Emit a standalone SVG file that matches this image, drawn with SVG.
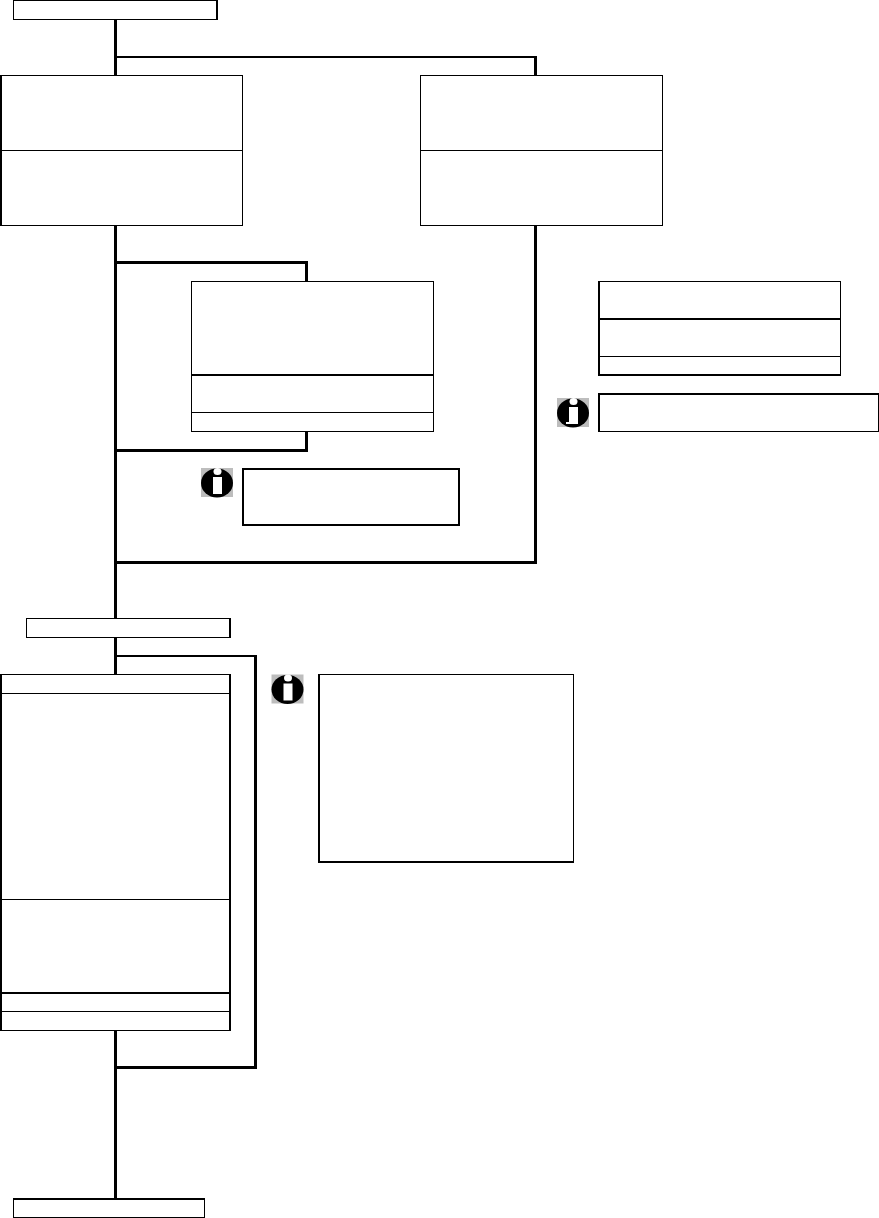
<svg xmlns="http://www.w3.org/2000/svg" width="879" height="1218" viewBox="0 0 879 1218">
<style>
.b{fill:#fff;stroke:#000;stroke-width:1;shape-rendering:crispEdges}
.k{fill:#000;stroke:none;shape-rendering:crispEdges}
.d{fill:none;stroke:#000;stroke-width:1;shape-rendering:crispEdges}
.c3{fill:none;stroke:#000;stroke-width:3;shape-rendering:crispEdges}
.c2{fill:none;stroke:#000;stroke-width:2;shape-rendering:crispEdges}
</style>
<defs>
<g id="info">
<rect width="32" height="29" fill="#bdbdbd"/>
<ellipse cx="16" cy="15" rx="16" ry="14.5" fill="#000"/>
<rect x="12" y="9" width="9" height="17" fill="#fff"/>
<ellipse cx="16.5" cy="3.5" rx="4" ry="3.5" fill="#fff"/>
</g>
</defs>
<rect width="879" height="1218" fill="#fff"/>
<g id="connectors">
<path class="c3" d="M115.5 20V1198"/>
<path class="c2" d="M117 57H537"/>
<path class="c3" d="M535.5 56V75"/>
<path class="c3" d="M535.5 226V564"/>
<path class="c3" d="M114 562.5H537"/>
<path class="c3" d="M115.5 262.5H308"/>
<path class="c3" d="M306.5 261V281"/>
<path class="c3" d="M306.5 432V452"/>
<path class="c3" d="M115.5 450.5H308"/>
<path class="c2" d="M117 656H257"/>
<path class="c3" d="M255.5 655V1069"/>
<path class="c3" d="M115.5 1067.5H257"/>
</g>
<g id="start">
<rect class="b" x="13.5" y="0.5" width="204" height="19"/>
<rect class="k" x="216" y="0" width="2" height="20"/>
</g>
<g id="box-left">
<rect class="b" x="0.5" y="75.5" width="242" height="150"/>
<rect class="k" x="0" y="75" width="2" height="151"/>
<path class="d" d="M0 150.5H243"/>
</g>
<g id="box-right">
<rect class="b" x="420.5" y="75.5" width="242" height="150"/>
<path class="d" d="M420 150.5H663"/>
</g>
<g id="box-inner">
<rect class="b" x="191.5" y="281.5" width="242" height="150"/>
<rect class="k" x="191" y="374" width="243" height="2"/>
<path class="d" d="M191 412.5H434"/>
</g>
<g id="box-far">
<rect class="b" x="598.5" y="281.5" width="242" height="94"/>
<rect class="k" x="598" y="281" width="2" height="95"/>
<rect class="k" x="598" y="374" width="243" height="2"/>
<rect class="k" x="598" y="318" width="243" height="2"/>
<path class="d" d="M598 356.5H841"/>
</g>
<g id="note-far">
<use href="#info" x="557" y="398"/>
<rect class="b" x="598.5" y="393.5" width="280" height="38"/>
<rect class="k" x="598" y="393" width="2" height="39"/>
<rect class="k" x="598" y="393" width="281" height="2"/>
<rect class="k" x="566" y="422" width="12" height="2" fill="#fff" style="fill:#fff"/>
</g>
<g id="note-inner">
<use href="#info" x="201" y="468"/>
<rect x="243" y="469" width="216" height="56" fill="#fff" stroke="#000" stroke-width="2" shape-rendering="crispEdges"/>
</g>
<g id="mid">
<rect class="b" x="26.5" y="618.5" width="204" height="19"/>
<rect class="k" x="229" y="618" width="2" height="20"/>
</g>
<g id="box-big">
<rect class="b" x="0.5" y="674.5" width="230" height="356"/>
<rect class="k" x="0" y="674" width="2" height="357"/>
<rect class="k" x="229" y="674" width="2" height="357"/>
<path class="d" d="M0 693.5H231M0 899.5H231M0 1011.5H231"/>
<rect class="k" x="0" y="992" width="231" height="2"/>
</g>
<g id="note-big">
<use href="#info" x="271.5" y="674.5"/>
<rect class="b" x="318.5" y="674.5" width="255" height="188"/>
<rect class="k" x="318" y="674" width="2" height="189"/>
<rect class="k" x="318" y="861" width="256" height="2"/>
</g>
<g id="end">
<rect class="b" x="13.5" y="1198.5" width="191" height="19"/>
<rect class="k" x="13" y="1198" width="192" height="2"/>
</g>
</svg>
